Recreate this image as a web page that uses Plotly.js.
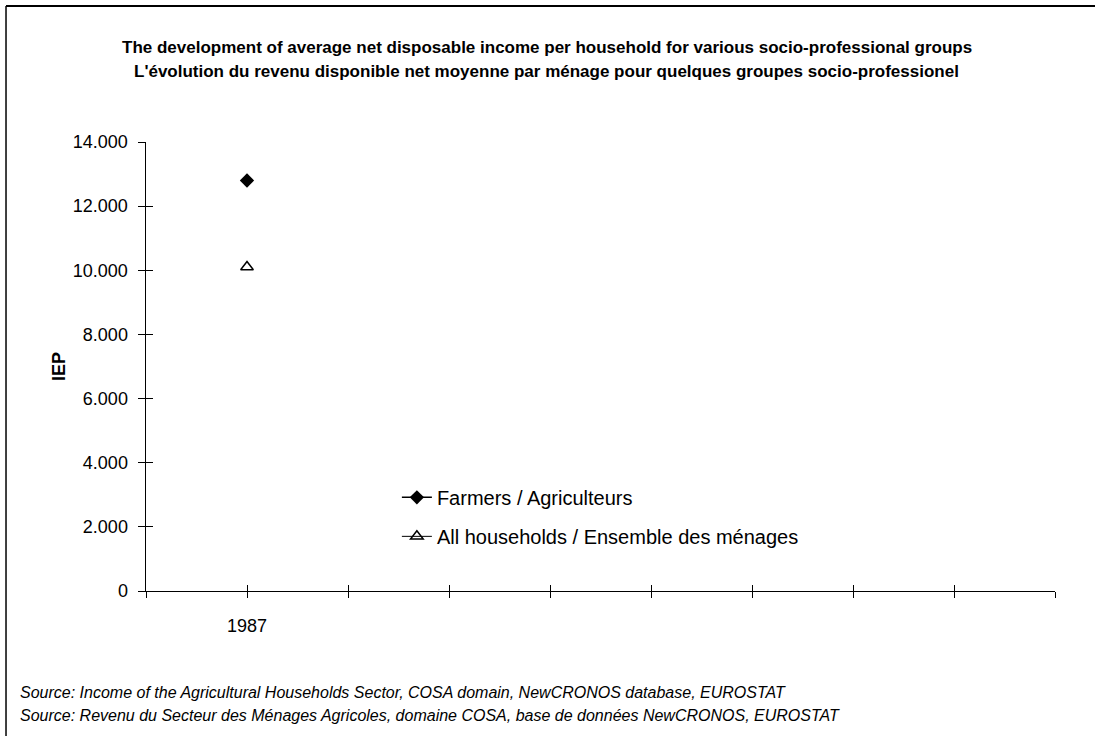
<!DOCTYPE html>
<html>
<head>
<meta charset="utf-8">
<script src="https://cdn.plot.ly/plotly-3.0.1.min.js"></script>
<style>html,body{margin:0;padding:0;background:#fff;}#chart{width:1095px;height:736px;}</style>
</head>
<body>
<div id="chart"></div>
<script>
// Data
const years = [1986, 1987, 1988, 1989, 1990, 1991, 1992, 1993, 1994, 1995];
const yearLabels = ['', '1987', '', '', '', '', '', '', '', ''];
const dataYears = [1987];
const farmers = [12800];
const allHouseholds = [10100];
const seriesNames = ['Farmers / Agriculteurs', 'All households / Ensemble des ménages'];
const yTicks = [0, 2000, 4000, 6000, 8000, 10000, 12000, 14000];
const titleLines = [
  'The development of average net disposable income per household for various socio-professional groups',
  "L'évolution du revenu disponible net moyenne par ménage pour quelques groupes socio-professionel"
];
const sourceLines = [
  'Source: Income of the Agricultural Households Sector, COSA domain, NewCRONOS database, EUROSTAT',
  'Source: Revenu du Secteur des Ménages Agricoles, domaine COSA, base de données NewCRONOS, EUROSTAT'
];

const font = 'Arial, "Liberation Sans", sans-serif';

const traces = [
  {
    x: dataYears, y: farmers, name: seriesNames[0], type: 'scatter', mode: 'lines+markers',
    line: {color: '#000', width: 1.5},
    marker: {symbol: 'diamond', size: 11, color: '#000'},
    legendgroup: 'a'
  },
  {
    x: dataYears, y: allHouseholds, name: seriesNames[1], type: 'scatter', mode: 'lines+markers',
    line: {color: '#000', width: 1},
    marker: {symbol: 'triangle-up-open', size: 11, color: '#000', line: {color: '#000', width: 1.5}},
    legendgroup: 'b'
  },
  {x: [], y: [], xaxis: 'x2', yaxis: 'y2', showlegend: false, hoverinfo: 'skip', type: 'scatter'}
];

const layout = {
  width: 1095, height: 736,
  margin: {l: 146, r: 40, t: 142, b: 145},
  paper_bgcolor: '#fff', plot_bgcolor: '#fff',
  separators: ',.',
  font: {family: font, color: '#000', size: 18},
  showlegend: true,
  legend: {
    x: 0.276, y: 0.252, xanchor: 'left', yanchor: 'top',
    bgcolor: 'rgba(0,0,0,0)', font: {size: 20, family: font},
    traceorder: 'grouped', tracegroupgap: 10
  },
  xaxis: {
    type: 'linear', range: [years[0], years[years.length - 1]],
    tickmode: 'array', tickvals: years, ticktext: yearLabels,
    showgrid: false, zeroline: false, showline: true, linecolor: '#000', linewidth: 1,
    ticks: 'outside', ticklen: 6, tickcolor: '#000', tickwidth: 1,
    ticklabelstandoff: 12,
    tickfont: {size: 18, family: font}
  },
  xaxis2: {
    type: 'linear', range: [years[0], years[years.length - 1]], overlaying: 'x', anchor: 'y2',
    tickmode: 'array', tickvals: years, showticklabels: false,
    showgrid: false, zeroline: false, showline: false,
    ticks: 'inside', ticklen: 6, tickcolor: '#000', tickwidth: 1
  },
  yaxis: {
    range: [0, 14000], tickmode: 'array', tickvals: yTicks, tickformat: ',d',
    showgrid: false, zeroline: false, showline: true, linecolor: '#000', linewidth: 1.5,
    ticks: 'outside', ticklen: 7, tickcolor: '#000', tickwidth: 1,
    ticklabelstandoff: 6,
    tickfont: {size: 18, family: font},
    title: {text: '<b>IEP</b>', font: {size: 18, family: font}, standoff: 2}
  },
  yaxis2: {
    range: [0, 14000], overlaying: 'y', anchor: 'x2',
    tickmode: 'array', tickvals: yTicks, showticklabels: false,
    showgrid: false, zeroline: false, showline: false,
    ticks: 'inside', ticklen: 7, tickcolor: '#000', tickwidth: 1
  },
  annotations: [
    {text: '<b>' + titleLines[0] + '</b>', xref: 'paper', yref: 'paper', x: 0.441, y: 1.211, xanchor: 'center', yanchor: 'middle', showarrow: false, font: {size: 17, family: font}},
    {text: '<b>' + titleLines[1] + '</b>', xref: 'paper', yref: 'paper', x: 0.441, y: 1.158, xanchor: 'center', yanchor: 'middle', showarrow: false, font: {size: 17, family: font}},
    {text: '<i>' + sourceLines[0] + '</i>', xref: 'paper', yref: 'paper', x: -0.141, y: -0.227, xanchor: 'left', yanchor: 'middle', showarrow: false, font: {size: 16, family: font}},
    {text: '<i>' + sourceLines[1] + '</i>', xref: 'paper', yref: 'paper', x: -0.141, y: -0.278, xanchor: 'left', yanchor: 'middle', showarrow: false, font: {size: 16, family: font}}
  ],
  shapes: [
    {type: 'line', xref: 'paper', yref: 'paper', x0: -0.154, x1: 1.1, y0: 1.303, y1: 1.303, line: {color: '#000', width: 2}},
    {type: 'line', xref: 'paper', yref: 'paper', x0: -0.154, x1: -0.154, y0: 1.303, y1: -0.33, line: {color: '#000', width: 1.5}}
  ]
};

Plotly.newPlot('chart', traces, layout, {displayModeBar: false, staticPlot: true});
</script>
</body>
</html>
